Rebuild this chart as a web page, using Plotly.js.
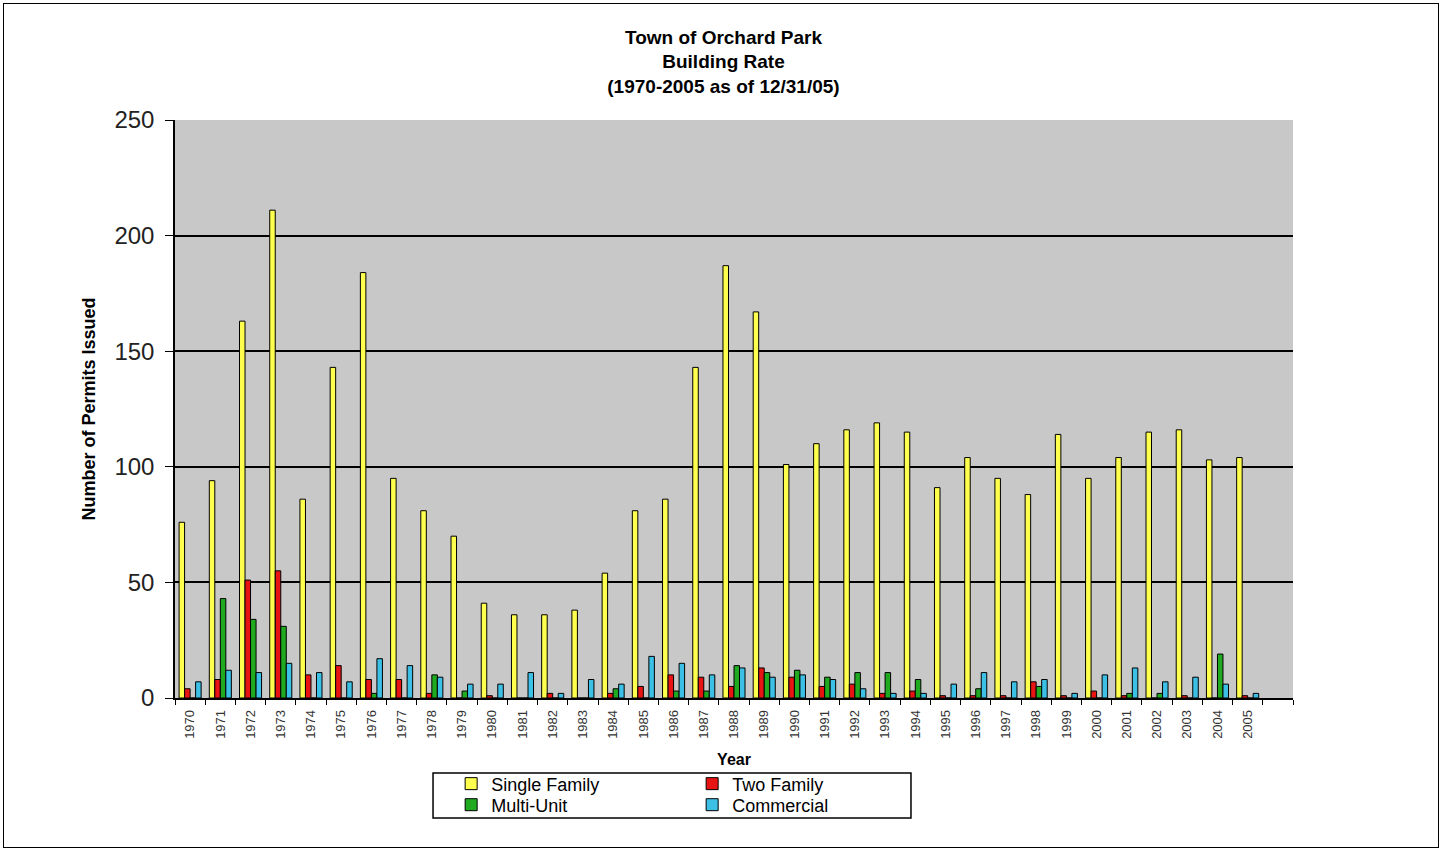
<!DOCTYPE html>
<html>
<head>
<meta charset="utf-8">
<script src="https://cdn.plot.ly/plotly-3.0.1.min.js"></script>
<style>
  html, body { margin: 0; padding: 0; background: #ffffff; }
  #chart { width: 1447px; height: 855px; position: relative; }
  #frame { position: absolute; left: 3px; top: 3px; width: 1436px; height: 845px;
           border: 1px solid #000; pointer-events: none; box-sizing: border-box; }
</style>
</head>
<body>
<div id="chart"></div>
<div id="frame"></div>
<script>
// ---- data ----
const years = [1970, 1971, 1972, 1973, 1974, 1975, 1976, 1977, 1978, 1979,
               1980, 1981, 1982, 1983, 1984, 1985, 1986, 1987, 1988, 1989,
               1990, 1991, 1992, 1993, 1994, 1995, 1996, 1997, 1998, 1999,
               2000, 2001, 2002, 2003, 2004, 2005];
const yearLabels = ["1970", "1971", "1972", "1973", "1974", "1975", "1976", "1977", "1978", "1979",
                    "1980", "1981", "1982", "1983", "1984", "1985", "1986", "1987", "1988", "1989",
                    "1990", "1991", "1992", "1993", "1994", "1995", "1996", "1997", "1998", "1999",
                    "2000", "2001", "2002", "2003", "2004", "2005"];
const singleFamily = [76, 94, 163, 211, 86, 143, 184, 95, 81, 70,
                      41, 36, 36, 38, 54, 81, 86, 143, 187, 167,
                      101, 110, 116, 119, 115, 91, 104, 95, 88, 114,
                      95, 104, 115, 116, 103, 104];
const twoFamily = [4, 8, 51, 55, 10, 14, 8, 8, 2, 0,
                   1, 0, 2, 0, 2, 5, 10, 9, 5, 13,
                   9, 5, 6, 2, 3, 1, 1, 1, 7, 1,
                   3, 1, 0, 1, 0, 1];
const multiUnit = [0, 43, 34, 31, 0, 0, 2, 0, 10, 3,
                   0, 0, 0, 0, 4, 0, 3, 3, 14, 11,
                   12, 9, 11, 11, 8, 0, 4, 0, 5, 0,
                   0, 2, 2, 0, 19, 0];
const commercial = [7, 12, 11, 15, 11, 7, 17, 14, 9, 6,
                    6, 11, 2, 8, 6, 18, 15, 10, 13, 9,
                    10, 8, 4, 2, 2, 6, 11, 7, 8, 2,
                    10, 13, 7, 9, 6, 2];
const seriesNames = ["Single Family", "Two Family", "Multi-Unit", "Commercial"];
const yTicks = [0, 50, 100, 150, 200, 250];

const FONT = 'Arial, "Liberation Sans", sans-serif';
const colors = ['#FFFF4D', '#E81414', '#1FAA1F', '#3CC0E6'];
const seriesData = [singleFamily, twoFamily, multiUnit, commercial];
const legendOf = ['legend', 'legend', 'legend2', 'legend2'];

const traces = seriesData.map((vals, i) => ({
  type: 'bar',
  name: seriesNames[i],
  x: years,
  y: vals,
  legend: legendOf[i],
  marker: { color: colors[i], line: { color: '#000000', width: 1 } },
  hoverinfo: 'x+y+name'
}));

const legendFont = { family: FONT, size: 18, color: '#000' };

const layout = {
  width: 1447,
  height: 855,
  paper_bgcolor: '#ffffff',
  plot_bgcolor: '#C8C8C8',
  margin: { l: 175, r: 154, t: 120, b: 157, autoexpand: false },
  barmode: 'group',
  bargap: 0.27,
  bargroupgap: 0,
  title: {
    text: '<b>Town of Orchard Park<br>Building Rate<br>(1970-2005 as of 12/31/05)</b>',
    font: { family: FONT, size: 19, color: '#000' },
    x: 0.5, xref: 'container', xanchor: 'center',
    y: 0.949, yref: 'container', yanchor: 'top'
  },
  xaxis: {
    type: 'linear',
    range: [1969.5, 2006.5],
    tickmode: 'array',
    tickvals: years,
    ticktext: yearLabels,
    tickangle: -90,
    ticks: '',
    ticklabelstandoff: 5,
    tickfont: { family: FONT, size: 13, color: '#333' },
    minor: { ticks: 'outside', tick0: 1969.5, dtick: 1, ticklen: 5, tickcolor: '#000', tickwidth: 1, showgrid: false },
    showgrid: false,
    zeroline: false,
    showline: true,
    linecolor: '#000',
    linewidth: 1.5,
    title: { text: '<b>Year</b>', font: { family: FONT, size: 16, color: '#000' }, standoff: 16 },
    fixedrange: true
  },
  yaxis: {
    range: [0, 250],
    tickmode: 'array',
    tickvals: yTicks,
    ticks: 'outside',
    ticklen: 8,
    tickcolor: '#000',
    tickwidth: 1,
    ticklabelstandoff: 6,
    tickfont: { family: FONT, size: 24, color: '#222' },
    showgrid: true,
    gridcolor: '#000',
    gridwidth: 1.5,
    zeroline: false,
    showline: true,
    linecolor: '#000',
    linewidth: 1.5,
    title: { text: '<b>Number of Permits Issued</b>', font: { family: FONT, size: 18, color: '#000' }, standoff: 14 },
    fixedrange: true
  },
  legend: {
    orientation: 'h',
    x: 0.247, xanchor: 'left',
    y: -0.1487, yanchor: 'middle',
    xref: 'paper', yref: 'paper',
    bgcolor: 'rgba(0,0,0,0)',
    borderwidth: 0,
    entrywidth: 196,
    font: legendFont,
    traceorder: 'normal'
  },
  legend2: {
    orientation: 'h',
    x: 0.247, xanchor: 'left',
    y: -0.1851, yanchor: 'middle',
    xref: 'paper', yref: 'paper',
    bgcolor: 'rgba(0,0,0,0)',
    borderwidth: 0,
    entrywidth: 196,
    font: legendFont,
    traceorder: 'normal'
  },
  shapes: [{
    type: 'rect', xref: 'paper', yref: 'paper',
    x0: 0.2308, x1: 0.6583, y0: -0.1298, y1: -0.2076,
    line: { color: '#000', width: 1.5 },
    fillcolor: 'rgba(0,0,0,0)',
    layer: 'above'
  }],
  showlegend: true
};

Plotly.newPlot('chart', traces, layout, { displayModeBar: false, responsive: false });
</script>
</body>
</html>
